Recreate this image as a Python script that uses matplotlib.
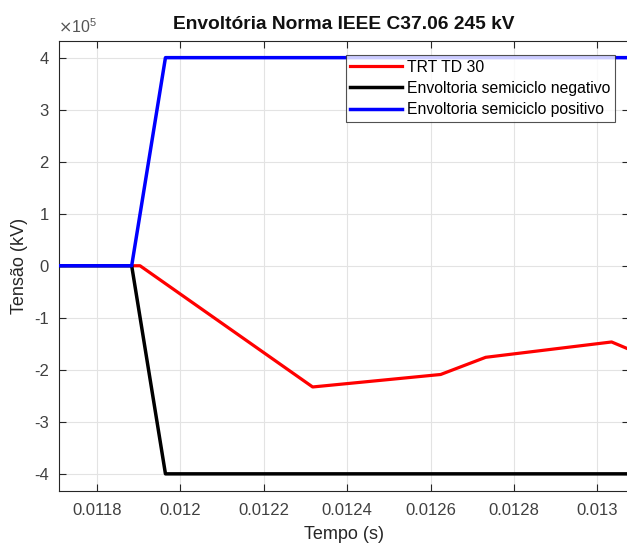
import matplotlib
matplotlib.use("Agg")
import matplotlib.pyplot as plt
import numpy as np

plt.rcParams['font.family'] = ['Liberation Sans', 'DejaVu Sans']

# Data (time in s, voltage as plotted, axis shown x1e5)
t_trt = [0.011883, 0.011903, 0.012317, 0.012624, 0.012732, 0.013034, 0.013080]
v_trt = [0.0, 0.0, -2.33e5, -2.09e5, -1.76e5, -1.465e5, -1.62e5]

t_env = [0.0117, 0.011883, 0.011964, 0.0132]
v_neg = [0.0, 0.0, -4.0e5, -4.0e5]
v_pos = [0.0, 0.0, 4.0e5, 4.0e5]

xticks = [0.0118, 0.012, 0.0122, 0.0124, 0.0126, 0.0128, 0.013]
xtick_labels = ['0.0118', '0.012', '0.0122', '0.0124', '0.0126', '0.0128', '0.013']
yticks = [-4e5, -3e5, -2e5, -1e5, 0, 1e5, 2e5, 3e5, 4e5]
ytick_labels = ['-4', '-3', '-2', '-1', '0', '1', '2', '3', '4']

W, H = 627, 546
fig = plt.figure(figsize=(W/100, H/100), dpi=100)
left, right, top, bottom = 58.5, 628.5, 41, 490.5
ax = fig.add_axes([left/W, 1-bottom/H, (right-left)/W, (bottom-top)/H])

ax.plot(t_trt, v_trt, color='#ff0000', lw=2.3, label='TRT TD 30', zorder=3)
ax.plot(t_env, v_neg, color='#000000', lw=2.5, label='Envoltoria semiciclo negativo', zorder=3)
ax.plot(t_env, v_pos, color='#0000ff', lw=2.5, label='Envoltoria semiciclo positivo', zorder=4)

ax.set_xlim(0.0117075, 0.0130745)
ax.set_ylim(-4.32e5, 4.32e5)
ax.set_xticks(xticks)
ax.set_xticklabels(xtick_labels)
ax.set_yticks(yticks)
ax.set_yticklabels(ytick_labels)

ax.grid(True, color='#e3e3e3', lw=0.8)
ax.set_axisbelow(True)
ax.tick_params(direction='in', top=True, right=True, length=5, width=0.8,
               colors='#262626', labelsize=12, labelcolor='#404040')
ax.tick_params(axis='x', pad=9)
ax.tick_params(axis='y', pad=7)
for s in ax.spines.values():
    s.set_color('#262626')
    s.set_linewidth(0.8)

ax.set_title('Envoltória Norma IEEE C37.06 245 kV', fontsize=13.8, fontweight='bold', pad=9,
             color='#111111')
ax.set_xlabel('Tempo (s)', fontsize=13, color='#262626', labelpad=6)
ax.set_ylabel('Tensão (kV)', fontsize=13, color='#262626', labelpad=4)
ax.text(0.0, 1.012, r'$\times\mathregular{10^{5}}$', transform=ax.transAxes, fontsize=11.5,
        color='#555555', ha='left', va='bottom')

leg = ax.legend(loc='upper right', bbox_to_anchor=((615-left)/(right-left), 1-(55-top)/(bottom-top)),
                fontsize=11.3, frameon=True, fancybox=False, edgecolor='#262626',
                handlelength=3.3, handletextpad=0.3, borderpad=0.3, labelspacing=0.4,
                borderaxespad=0)
leg.get_frame().set_linewidth(0.8)

fig.savefig('out.png', dpi=100)
